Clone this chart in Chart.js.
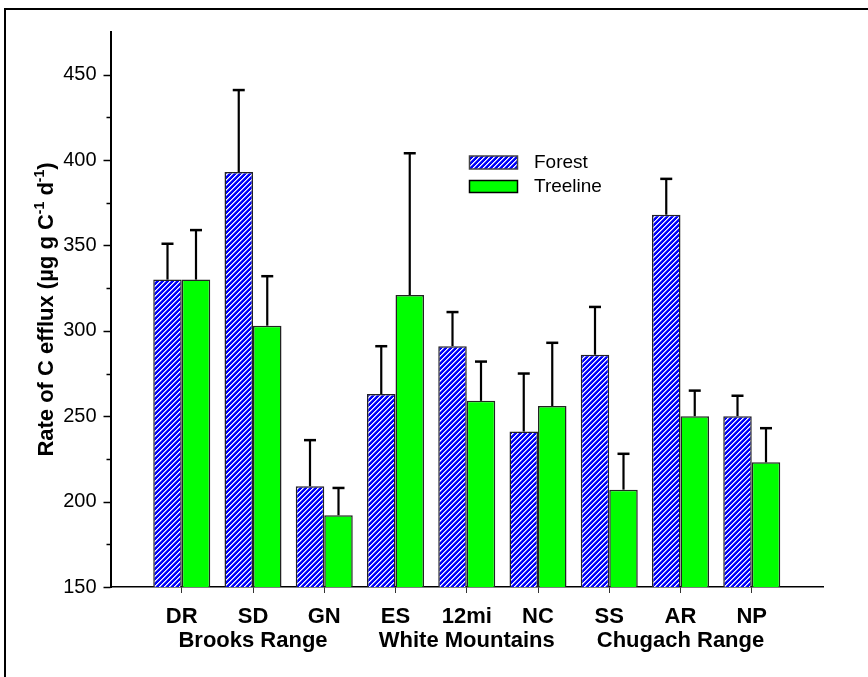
<!DOCTYPE html>
<html>
<head>
<meta charset="utf-8">
<script src="https://cdn.jsdelivr.net/npm/chart.js@4.4.0/dist/chart.umd.min.js"></script>
<style>
html, body { margin: 0; padding: 0; background: #fff; overflow: hidden; }
#frame { position: absolute; left: 4px; top: 8px; width: 900px; height: 700px;
         border-left: 2px solid #000; border-top: 2px solid #000; }
#chartBox { position: absolute; left: 0; top: 0; }
</style>
</head>
<body>
<div id="frame"></div>
<div id="chartBox"><canvas id="effluxChart" width="868" height="677"></canvas></div>
<script>
// sites, grouped three per mountain range
var sites = ["DR", "SD", "GN", "ES", "12mi", "NC", "SS", "AR", "NP"];
var ranges = ["Brooks Range", "White Mountains", "Chugach Range"];
var seriesNames = ["Forest", "Treeline"];

// mean rate and upper error (SE) per site
var forest      = [330, 393, 209, 263, 291, 241, 286, 368, 250];
var forestErr   = [21, 48, 27, 28, 20, 34, 28, 21, 12];
var treeline    = [330, 303, 192, 321, 259, 256, 207, 250, 223];
var treelineErr = [29, 29, 16, 83, 23, 37, 21, 15, 20];

var yTicks = [150, 200, 250, 300, 350, 400, 450];

// category axis gets an empty slot at each end so the sites sit on ticks 1..9
function padded(arr) { return [null].concat(arr, [null]); }
var xLabels = [""].concat(sites.map(function (s, i) {
    return i % 3 === 1 ? [s, ranges[(i - 1) / 3]] : s;
}), [""]);

var canvas = document.getElementById("effluxChart");
var ctx = canvas.getContext("2d");

// blue fill with white diagonal hatching, built pixel by pixel
function makeHatch() {
    var n = 5;
    var t = document.createElement("canvas");
    t.width = n; t.height = n;
    var g = t.getContext("2d");
    var img = g.createImageData(n, n);
    for (var py = 0; py < n; py++) {
        for (var px = 0; px < n; px++) {
            var k = (px + py) % n, o = (py * n + px) * 4;
            var col = k === 0 ? [255, 255, 255] : k === 1 ? [160, 160, 255] : [0, 0, 250];
            img.data[o] = col[0]; img.data[o + 1] = col[1]; img.data[o + 2] = col[2]; img.data[o + 3] = 255;
        }
    }
    g.putImageData(img, 0, 0);
    return ctx.createPattern(t, "repeat");
}
var hatch = makeHatch();

var errorBars = {
    id: "errorBars",
    afterDatasetsDraw: function (chart) {
        var c = chart.ctx, y = chart.scales.y;
        c.save();
        c.strokeStyle = "#000";
        chart.data.datasets.forEach(function (ds, di) {
            chart.getDatasetMeta(di).data.forEach(function (bar, i) {
                var v = ds.data[i];
                if (v == null) return;
                var top = y.getPixelForValue(v + ds.errors[i]);
                c.lineWidth = 2.2;
                c.beginPath();
                c.moveTo(bar.x, bar.y);
                c.lineTo(bar.x, top);
                c.stroke();
                c.lineWidth = 2.5;
                c.beginPath();
                c.moveTo(bar.x - 6, top);
                c.lineTo(bar.x + 6, top);
                c.stroke();
            });
        });
        c.restore();
    }
};

var axisDecor = {
    id: "axisDecor",
    afterDraw: function (chart) {
        var c = chart.ctx, y = chart.scales.y, area = chart.chartArea;
        c.save();
        // y ticks: long on labelled values, short in between
        c.strokeStyle = "#000";
        c.lineWidth = 1.5;
        y.ticks.forEach(function (t) {
            if (t.value >= y.max) return;
            var py = Math.round(y.getPixelForValue(t.value)) + 0.5;
            var len = yTicks.indexOf(t.value) >= 0 ? 7 : 4;
            c.beginPath();
            c.moveTo(area.left - len, py);
            c.lineTo(area.left, py);
            c.stroke();
        });

        // axis title with superscripts
        var parts = [["Rate of C efflux (\u00b5g g C", 0], ["-1", 1], [" d", 0], ["-1", 1], [")", 0]];
        var big = "bold 22px Arial, 'Liberation Sans', sans-serif";
        var small = "bold 14px Arial, 'Liberation Sans', sans-serif";
        var total = 0;
        parts.forEach(function (p) { c.font = p[1] ? small : big; total += c.measureText(p[0]).width; });
        c.translate(53, (area.top + area.bottom) / 2);
        c.rotate(-Math.PI / 2);
        c.fillStyle = "#000";
        c.textBaseline = "alphabetic";
        var x = -total / 2;
        parts.forEach(function (p) {
            c.font = p[1] ? small : big;
            c.fillText(p[0], x, p[1] ? -9 : 0);
            x += c.measureText(p[0]).width;
        });
        c.restore();

        // legend
        c.save();
        var rows = [[156, 13, hatch, "#444"], [180.5, 12, "#00ff00", "#000"]];
        rows.forEach(function (r, i) {
            c.fillStyle = r[2];
            c.fillRect(469.5, r[0], 48, r[1]);
            c.strokeStyle = r[3];
            c.lineWidth = 1.5;
            c.strokeRect(469.5, r[0], 48, r[1]);
            c.fillStyle = "#000";
            c.font = "19px Arial, 'Liberation Sans', sans-serif";
            c.textBaseline = "middle";
            c.fillText(seriesNames[i], 534, r[0] + r[1] / 2);
        });
        c.restore();
    }
};

var chartData = {
    labels: xLabels,
    datasets: [{
        label: seriesNames[0],
        data: padded(forest),
        errors: padded(forestErr),
        backgroundColor: hatch,
        borderColor: "#222",
        borderWidth: 1.5,
        borderSkipped: "bottom"
    }, {
        label: seriesNames[1],
        data: padded(treeline),
        errors: padded(treelineErr),
        backgroundColor: "#00ff00",
        borderColor: "#222",
        borderWidth: 1.5,
        borderSkipped: "bottom"
    }]
};

var chartOptions = {
    responsive: false,
    animation: false,
    layout: { padding: { top: 32, right: 45, left: 0, bottom: 0 } },
    datasets: { bar: { barPercentage: 1, categoryPercentage: 0.8 } },
    plugins: { legend: { display: false }, tooltip: { enabled: false } },
    scales: {
        x: {
            offset: false,
            grid: {
                offset: false,
                drawOnChartArea: false,
                drawTicks: true,
                tickLength: 6,
                lineWidth: 1,
                color: function (c) { return c.index > 0 && c.index <= sites.length ? "#333" : "rgba(0,0,0,0)"; }
            },
            border: { display: true, color: "#000", width: 1.5 },
            ticks: {
                autoSkip: false,
                maxRotation: 0,
                padding: 12,
                color: "#000",
                font: { family: "Arial, 'Liberation Sans', sans-serif", size: 22, weight: "bold", lineHeight: 1.09 }
            },
            afterFit: function (scale) { scale.height = 90; }
        },
        y: {
            min: 150,
            max: 475,
            grid: { display: true, drawOnChartArea: false, drawTicks: false },
            border: { display: true, color: "#000", width: 2 },
            ticks: {
                stepSize: 25,
                padding: 14,
                color: "#000",
                font: { family: "Arial, 'Liberation Sans', sans-serif", size: 20 },
                callback: function (v) { return yTicks.indexOf(v) >= 0 ? String(v) : ""; }
            },
            afterFit: function (scale) { scale.width = 110.5; }
        }
    }
};

var effluxChart = new Chart(canvas, {
    type: "bar",
    data: chartData,
    options: chartOptions,
    plugins: [errorBars, axisDecor]
});
</script>
</body>
</html>
